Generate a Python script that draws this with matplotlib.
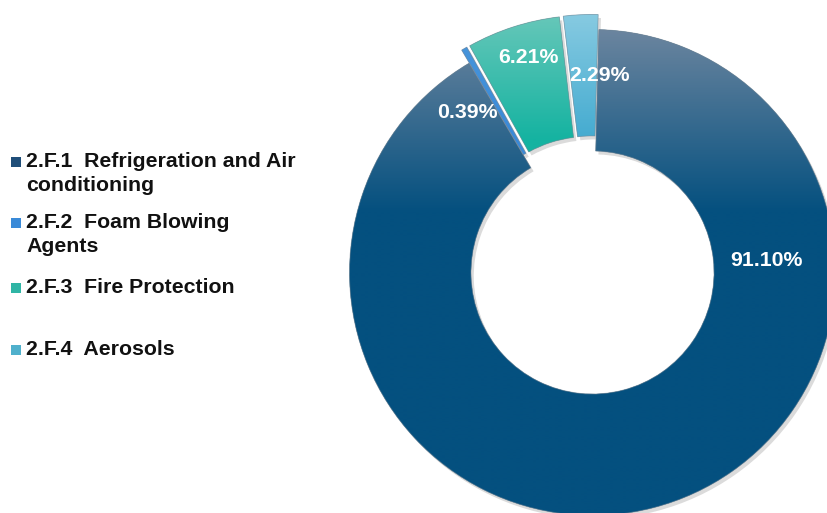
import numpy as np
import matplotlib
matplotlib.use("Agg")
import matplotlib.pyplot as plt
from matplotlib.patches import Wedge, Rectangle
import matplotlib.patheffects as pe
from matplotlib.colors import to_rgb

# ---- data ----
categories = ["2.F.1  Refrigeration and Air\nconditioning",
              "2.F.2  Foam Blowing\nAgents",
              "2.F.3  Fire Protection",
              "2.F.4  Aerosols"]
shares = [91.10, 0.39, 6.21, 2.29]
pct_labels = ["91.10%", "0.39%", "6.21%", "2.29%"]

# ---- style ----
explode = [0.0, 0.062, 0.062, 0.062]
grad_top = ["#6b859f", "#4a98dc", "#66c7b9", "#86cae1"]
grad_bot = ["#04507f", "#3a8ad8", "#15b3a1", "#44abd0"]
grad_range = [(1.0, 0.25), (1.06, 0.55), (1.06, 0.55), (1.06, 0.55)]
legend_colors = ["#1f4e79", "#3a8ad8", "#2fb5a5", "#4fb0cc"]
label_pos = [(0.714, 0.027), (-0.514, 0.636), (-0.263, 0.862), (0.027, 0.788)]
legend_baselines = [167, 228, 293, 355]

FONT = "Liberation Sans"
W, H = 827, 513
fig = plt.figure(figsize=(W / 100, H / 100), dpi=100)
ax = fig.add_axes([0, 0, 1, 1])

cx, cy, R = 592.5, 272.5, 243.0  # pixel centre (y from top) and radius

wedges, _ = ax.pie(shares, startangle=88.5, counterclock=False, explode=explode,
                   radius=1.0, wedgeprops=dict(width=0.5, linewidth=0))

x0, x1 = (0 - cx) / R, (W - cx) / R
y0, y1 = (cy - H) / R, cy / R
ax.set_aspect("auto")
ax.set_xlim(x0, x1)
ax.set_ylim(y0, y1)
ax.axis("off")

ny = 400
ys = np.linspace(y1, y0, ny)
for i, w in enumerate(wedges):
    w.set_facecolor(grad_bot[i])
    w.set_zorder(1)
    w.set_path_effects([pe.SimplePatchShadow(offset=(2, -2.5), shadow_rgbFace="#707070", alpha=0.25),
                        pe.Normal()])
    top, bot = np.array(to_rgb(grad_top[i])), np.array(to_rgb(grad_bot[i]))
    ya, yb = grad_range[i]
    t = np.clip((ya - ys) / (ya - yb), 0, 1)[:, None]
    img = (top * (1 - t) + bot * t)[:, None, :]
    im = ax.imshow(img, extent=[x0, x1, y0, y1], origin="upper", aspect="auto",
                   interpolation="bilinear", zorder=2)
    im.set_clip_path(w)
    outline = Wedge(w.center, w.r, w.theta1, w.theta2, width=w.width, fill=False,
                    edgecolor="#7d8a96", linewidth=0.6, alpha=0.6, zorder=3)
    ax.add_patch(outline)

ax.set_xlim(x0, x1)
ax.set_ylim(y0, y1)

for lab, (lx, ly) in zip(pct_labels, label_pos):
    ax.text(lx, ly, lab, ha="center", va="baseline", color="white",
            fontsize=15.3, fontweight="bold", family=FONT, zorder=5)

# ---- legend ----
for cat, col, base in zip(categories, legend_colors, legend_baselines):
    fig.add_artist(Rectangle((11 / W, 1 - base / H), 10 / W, 10 / H,
                             transform=fig.transFigure, facecolor=col, edgecolor="none"))
    for j, line in enumerate(cat.split("\n")):
        fig.text(26 / W, 1 - (base + 24 * j) / H, line, ha="left", va="baseline",
                 fontsize=15.3, fontweight="bold", family=FONT, color="#111111")

fig.savefig("out.png", dpi=100)
